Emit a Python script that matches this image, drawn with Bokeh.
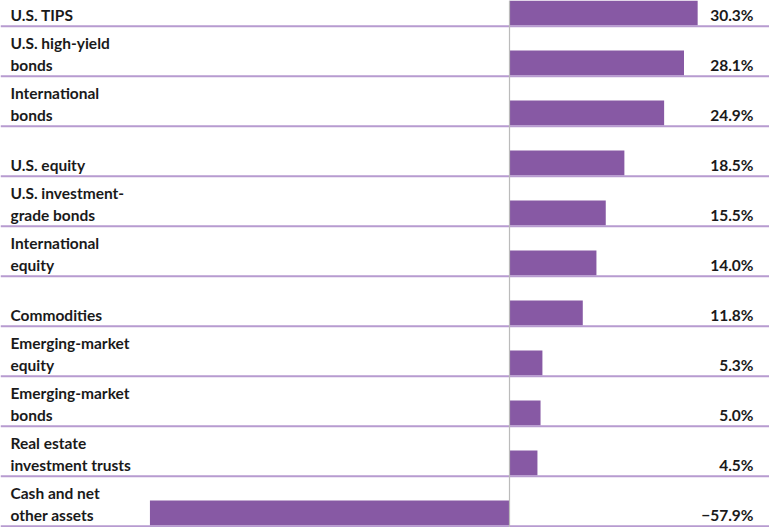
from bokeh.plotting import figure
from bokeh.models import Range1d, ColumnDataSource
from bokeh.embed import file_html
from bokeh.resources import INLINE
from bokeh.core.properties import value

categories = [
    "U.S. TIPS",
    "U.S. high-yield\nbonds",
    "International\nbonds",
    "U.S. equity",
    "U.S. investment-\ngrade bonds",
    "International\nequity",
    "Commodities",
    "Emerging-market\nequity",
    "Emerging-market\nbonds",
    "Real estate\ninvestment trusts",
    "Cash and net\nother assets",
]
values = [30.3, 28.1, 24.9, 18.5, 15.5, 14.0, 11.8, 5.3, 5.0, 4.5, -57.9]

W, H = 769, 527
ZERO_PX = 509
PX_PER_PCT = 6.21
ROW_PX = 50

x0 = -ZERO_PX / PX_PER_PCT
x1 = (W - ZERO_PX) / PX_PER_PCT

p = figure(width=W, height=H, output_backend="svg", toolbar_location=None,
           x_range=Range1d(x0, x1), y_range=Range1d(H / ROW_PX, 0),
           min_border=0, min_border_left=0, min_border_right=0,
           min_border_top=0, min_border_bottom=0)
p.axis.visible = False
p.grid.visible = False
p.outline_line_color = None
p.background_fill_color = "white"
p.border_fill_color = "white"

idx = list(range(len(categories)))
BAR_C = "#8759A4"
SEP_C = "#B79BD0"
FONT = "Lato"

# bars: bottom half of each row
src = ColumnDataSource(dict(
    left=[min(0, v) for v in values],
    right=[max(0, v) for v in values],
    top=[i for i in idx],
    bottom=[i + 0.5 for i in idx],
))
p.quad(left="left", right="right", top="top", bottom="bottom", source=src,
       fill_color=BAR_C, line_color=None)

# separators
for i in idx:
    p.segment(x0=[x0], x1=[x1], y0=[i + 0.515], y1=[i + 0.515],
              line_color=SEP_C, line_width=2)

# zero line
p.segment(x0=[0], x1=[0], y0=[0], y1=[H / ROW_PX], line_color="#BBBBBB", line_width=1.2)

L2 = 0.28
L1 = -0.145
# labels
lx, ly, lt = [], [], []
for i, c in zip(idx, categories):
    parts = c.split("\n")
    if len(parts) == 1:
        lx.append(x0 + 10 / PX_PER_PCT); ly.append(i + L2); lt.append(parts[0])
    else:
        lx.append(x0 + 10 / PX_PER_PCT); ly.append(i + L1); lt.append(parts[0])
        lx.append(x0 + 10 / PX_PER_PCT); ly.append(i + L2); lt.append(parts[1])
p.text(x=lx, y=ly, text=lt, text_font=value(FONT), text_font_style="bold",
       text_font_size="15.5px", text_color="#1a1a1a", text_baseline="alphabetic",
       text_align="left")

# value labels
vt = [("−" if v < 0 else "") + f"{abs(v):.1f}%" for v in values]
p.text(x=[x1 - 16 / PX_PER_PCT] * len(values), y=[i + L2 for i in idx], text=vt,
       text_font=value(FONT), text_font_style="bold", text_font_size="15.5px",
       text_color="#1a1a1a", text_baseline="alphabetic", text_align="right")

open("out.html", "w").write(file_html(p, INLINE))
